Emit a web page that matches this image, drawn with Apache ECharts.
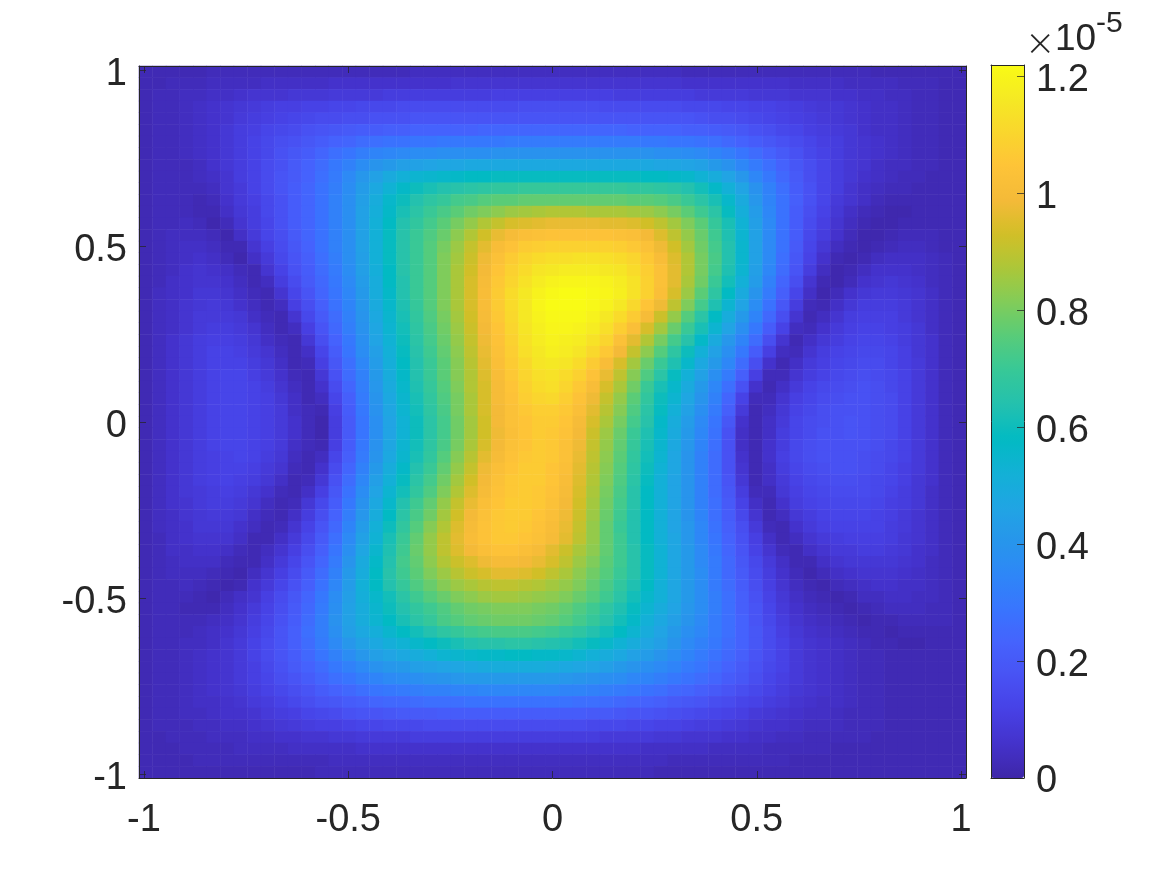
<!DOCTYPE html>
<html>
<head>
<meta charset="utf-8">
<title>heatmap</title>
<script src="https://cdn.jsdelivr.net/npm/echarts@6/dist/echarts.min.js"></script>
<style>
  html, body { margin: 0; background: #fff; }
  #main { width: 1167px; height: 875px; }
</style>
</head>
<body>
<div id="main"></div>
<script>
// values in units of 1e-7. rows go top to bottom, 61 columns left to right
const zRows = [
[2,2,2,2,2,3,3,3,3,3,3,3,3,3,3,3,3,3,3,3,4,4,4,4,4,4,4,4,4,4,4,4,4,4,4,4,4,4,4,4,3,3,3,3,3,3,3,3,3,3,3,3,3,3,2,2,2,2,2,2,2],
[2,2,3,3,3,4,4,4,4,5,5,5,5,5,6,6,6,6,6,6,6,6,6,7,7,7,7,7,7,7,7,7,7,7,7,7,7,7,7,7,6,6,6,6,6,6,6,6,5,5,5,5,4,4,4,4,3,3,3,2,2],
[2,3,3,4,4,5,5,6,7,7,7,8,8,8,9,9,9,9,10,10,10,10,10,10,10,10,11,11,11,11,11,11,11,11,11,10,10,10,10,10,10,9,9,9,9,8,8,8,7,7,7,6,6,5,5,4,4,3,3,2,2],
[2,3,3,4,5,6,7,8,9,10,11,11,12,12,13,13,14,14,14,15,15,15,15,15,15,15,15,15,16,16,16,16,16,16,15,15,15,15,15,15,14,14,14,13,13,12,12,11,10,9,8,8,7,6,5,5,4,3,3,2,2],
[2,3,3,4,5,6,7,9,10,11,12,13,14,15,15,16,16,17,17,17,18,18,18,18,18,18,18,18,18,18,18,18,18,18,18,18,18,18,18,18,18,17,16,16,15,14,13,12,11,10,9,8,7,6,5,5,4,3,3,2,2],
[2,3,3,4,5,6,8,10,11,13,14,15,17,18,19,20,21,21,22,22,23,23,23,23,23,24,24,24,24,24,24,24,24,24,24,24,23,23,23,23,22,22,21,20,19,17,16,14,13,11,10,9,8,6,5,5,4,3,3,2,2],
[2,3,3,4,5,6,8,10,12,14,16,17,19,21,23,24,26,27,28,28,29,29,30,30,30,30,30,31,31,31,31,31,31,31,31,31,31,30,30,29,29,28,27,25,23,21,19,17,15,13,11,10,8,7,6,5,4,3,3,2,2],
[2,3,3,4,5,6,8,10,12,14,17,19,21,24,27,29,32,34,35,36,37,37,38,38,38,38,39,39,39,39,39,39,39,39,39,39,39,39,38,38,37,36,34,32,29,26,23,20,17,14,12,10,8,7,6,5,4,3,3,2,2],
[2,3,3,3,4,6,8,10,12,15,17,20,23,26,30,33,37,40,42,44,45,46,47,47,48,48,48,48,48,48,48,48,48,48,48,48,48,48,47,47,46,45,42,39,35,31,27,23,19,16,13,10,8,7,5,4,4,3,3,2,2],
[2,3,3,3,4,5,7,10,12,15,18,20,23,27,31,36,41,45,49,52,54,55,56,57,58,58,59,59,59,59,59,59,59,59,59,59,59,58,58,57,56,53,50,46,41,35,30,25,20,16,13,10,8,6,5,4,3,3,2,2,2],
[2,3,3,3,3,4,7,9,12,15,18,21,24,28,32,37,43,48,53,57,60,62,64,65,66,67,68,68,69,69,69,69,69,69,69,69,68,68,67,66,64,61,57,52,46,39,33,27,21,17,13,10,7,5,4,3,3,2,2,2,2],
[2,3,3,3,2,3,6,9,11,14,17,21,24,28,33,38,44,50,56,60,64,67,69,72,73,75,76,76,77,77,77,77,77,77,77,77,76,76,75,73,70,66,62,56,49,41,34,28,22,17,13,9,7,5,3,2,2,2,2,2,2],
[2,3,3,3,2,2,5,8,10,14,17,21,24,28,33,38,45,51,57,62,66,70,73,76,79,81,83,85,86,87,88,88,88,87,87,87,86,85,83,80,76,71,66,59,51,43,35,28,21,16,12,8,5,3,2,1,1,2,2,2,2],
[2,3,3,4,3,1,3,7,10,13,17,21,24,28,33,38,45,52,58,64,68,72,76,80,84,88,91,94,95,96,97,97,97,97,96,96,95,93,90,86,81,76,69,62,53,44,36,28,21,15,11,7,4,2,1,1,2,2,2,2,2],
[2,3,4,4,4,3,1,5,9,13,16,20,24,28,33,38,45,52,59,65,70,74,78,83,88,93,97,100,102,103,104,104,104,104,104,103,102,99,95,90,84,78,71,63,54,45,36,28,21,14,10,6,3,1,1,2,3,3,3,2,2],
[2,3,4,5,5,4,2,2,7,11,15,19,23,28,33,38,45,52,59,65,70,75,80,85,91,96,101,104,107,108,109,109,109,109,109,108,106,103,98,93,86,79,72,64,55,45,36,28,20,13,8,4,2,1,2,3,4,4,3,2,2],
[2,3,4,5,6,5,3,1,5,9,14,18,22,27,32,38,44,52,59,65,70,75,81,86,92,98,103,107,110,112,113,113,114,114,113,112,110,106,101,95,88,80,73,64,55,45,36,27,19,12,6,2,1,2,4,5,5,5,4,3,2],
[2,3,4,6,7,6,5,3,2,7,12,17,21,26,31,37,44,51,58,65,70,75,81,87,93,99,105,109,112,115,116,117,117,117,116,115,112,108,103,96,88,80,72,63,54,44,35,26,18,10,4,1,2,4,6,6,6,5,4,3,2],
[2,3,5,6,7,7,6,4,2,4,10,15,20,25,30,36,43,50,58,64,70,75,81,87,94,100,106,110,114,117,119,120,120,120,119,117,114,109,103,96,87,79,70,61,52,43,33,24,16,7,2,1,3,6,7,8,7,6,4,3,2],
[2,4,5,6,8,8,7,5,3,2,7,13,18,24,29,35,42,50,57,64,70,75,81,87,94,101,107,112,116,119,121,122,122,121,120,118,114,109,102,94,85,76,67,58,49,40,31,22,13,5,1,3,6,8,9,9,8,7,5,3,2],
[2,4,5,7,8,9,8,6,4,2,4,11,16,22,28,34,41,49,56,63,69,75,81,87,94,101,107,112,116,120,122,122,122,121,119,116,111,105,98,90,81,72,63,54,46,37,28,19,10,3,2,5,8,10,10,10,9,7,5,3,2],
[2,4,5,7,9,9,9,8,5,3,2,7,14,20,26,33,40,48,55,62,68,74,80,86,93,100,106,111,116,119,121,121,121,119,116,112,107,100,92,84,75,66,58,50,42,34,25,16,7,2,4,7,10,11,11,11,9,7,5,3,2],
[2,4,5,7,9,10,10,9,7,4,2,4,11,18,25,32,39,47,54,61,67,73,79,85,92,99,105,110,115,118,120,120,119,117,113,108,102,94,86,78,70,62,54,46,38,30,21,12,4,3,6,9,11,12,12,11,10,8,5,3,2],
[2,4,6,8,10,11,11,10,8,5,3,2,8,16,23,30,38,46,53,60,66,72,78,84,91,98,104,109,114,117,119,118,117,114,110,103,96,88,80,72,65,57,49,41,34,26,16,7,2,5,8,10,12,13,13,12,10,8,6,3,2],
[2,4,6,8,10,12,12,11,9,7,4,2,5,13,21,29,37,44,52,59,65,71,77,83,90,97,103,108,113,116,118,117,115,111,106,99,91,83,75,67,60,52,45,38,30,21,11,4,3,7,10,12,13,14,14,13,11,8,6,3,2],
[2,4,6,8,10,12,12,12,10,8,5,2,3,11,19,27,35,43,51,58,64,70,76,82,89,96,102,107,111,115,116,115,112,107,101,94,86,78,70,63,56,48,42,35,26,16,6,2,5,9,11,13,14,15,15,13,11,9,6,3,2],
[2,4,6,8,10,12,13,13,11,9,6,3,2,8,17,26,33,42,50,57,64,70,76,82,88,95,101,106,110,113,114,112,109,104,97,90,82,74,66,59,52,45,38,31,22,11,3,3,7,10,12,14,15,16,15,14,12,9,6,3,2],
[2,4,6,8,10,12,13,13,12,10,7,4,2,6,15,24,32,41,49,56,63,69,75,81,88,94,100,105,109,112,113,110,106,101,94,87,79,70,62,56,49,42,35,27,17,6,2,5,9,12,14,15,16,17,16,14,12,9,6,3,2],
[2,4,6,8,10,12,13,13,12,11,8,5,2,4,13,22,31,40,48,55,62,68,74,80,87,94,100,104,108,110,111,108,104,98,91,84,76,68,60,54,47,40,33,24,12,3,3,7,11,13,15,16,17,17,16,15,12,9,6,3,2],
[2,4,6,8,10,12,13,13,12,11,9,5,3,2,11,21,30,39,47,54,61,67,73,80,87,94,99,103,106,108,108,106,102,96,89,82,74,66,59,52,45,38,31,22,9,2,4,8,12,14,16,17,17,17,16,15,12,9,6,3,2],
[2,4,6,8,10,12,13,13,12,11,9,6,3,1,10,20,29,38,46,53,60,66,72,79,86,93,99,103,105,107,107,105,100,94,87,80,72,65,57,50,43,36,29,19,6,2,5,9,13,15,16,17,18,17,16,15,12,9,6,3,2],
[2,4,6,8,10,12,13,13,12,11,9,6,3,1,10,20,29,38,46,53,60,66,72,79,86,93,98,102,105,107,106,104,99,92,85,78,70,63,56,49,42,35,28,17,5,2,5,10,13,15,17,17,18,17,16,15,12,9,6,3,2],
[2,4,6,8,10,12,13,13,12,11,9,5,3,2,11,21,30,39,47,54,61,67,73,80,87,94,99,103,105,107,106,103,98,91,84,77,69,62,55,48,41,34,27,17,5,2,6,10,14,16,17,17,17,17,16,14,12,9,6,3,2],
[2,4,6,8,10,11,12,13,12,10,8,4,2,4,13,22,31,40,48,55,62,68,75,82,89,96,100,104,106,107,106,103,97,90,83,76,68,61,54,47,40,33,26,17,6,2,6,11,14,16,17,17,17,16,15,14,12,9,6,3,2],
[2,4,6,8,10,11,12,12,11,9,7,3,2,6,15,24,33,42,50,57,64,70,77,84,91,98,102,105,107,107,105,102,96,89,82,75,67,60,53,47,40,33,26,17,7,2,5,10,13,15,16,17,17,16,15,13,11,9,6,3,2],
[2,4,6,8,10,11,12,11,10,8,5,2,3,8,17,26,35,44,52,59,66,72,79,86,93,99,103,106,107,107,105,101,95,88,81,74,66,59,52,46,40,33,26,18,8,2,5,9,12,14,15,16,16,15,14,13,11,8,6,3,2],
[2,4,6,8,9,10,11,10,8,6,3,2,5,11,19,28,37,46,54,61,68,74,81,88,95,100,104,106,107,106,104,100,94,87,80,73,65,58,52,46,40,33,26,19,10,3,3,8,11,13,14,15,15,15,14,12,10,8,5,3,2],
[2,4,6,7,9,10,10,9,7,4,2,3,8,14,21,30,39,48,56,64,71,77,84,91,97,102,105,107,107,106,103,99,93,86,79,72,65,58,52,46,40,33,27,20,12,5,2,6,10,12,13,14,14,14,13,11,10,8,5,3,2],
[2,4,5,7,8,9,9,8,5,3,2,5,10,16,23,32,41,50,58,66,73,79,86,93,99,103,106,107,107,105,102,98,92,85,78,71,64,58,52,46,40,34,27,21,14,7,2,4,8,10,12,13,13,13,12,11,9,7,5,3,2],
[2,4,5,6,8,8,8,6,4,2,3,7,12,18,25,34,43,52,60,68,75,82,88,95,100,104,106,107,106,104,101,97,91,84,77,70,64,58,52,46,41,35,28,22,16,9,3,2,6,9,11,12,12,12,12,10,9,7,5,3,2],
[2,3,5,6,7,7,7,5,2,2,5,9,14,20,27,36,45,53,62,70,77,84,90,96,101,104,106,106,105,103,100,96,90,84,77,71,64,58,52,47,41,35,29,23,17,11,5,2,4,7,9,10,11,11,11,10,8,7,5,3,2],
[2,3,5,5,6,6,5,3,2,4,7,11,16,22,29,38,47,55,63,71,78,84,90,95,99,102,104,104,102,100,96,92,87,83,77,71,65,59,53,47,42,36,30,24,18,12,7,3,2,5,7,9,9,10,10,9,8,6,5,3,2],
[2,3,4,5,5,5,3,2,2,5,9,13,18,24,31,40,49,57,64,72,77,83,88,92,95,98,100,100,99,97,94,90,85,81,76,71,65,59,53,47,42,36,31,25,19,14,9,5,2,2,5,7,8,8,8,8,7,6,4,3,2],
[2,3,4,4,4,3,2,1,4,7,11,15,20,26,33,42,50,58,65,71,76,81,85,89,92,94,96,96,95,93,90,87,83,79,75,70,65,59,53,47,42,37,31,25,20,15,10,6,3,1,3,5,6,7,7,7,6,5,4,3,2],
[2,3,3,4,3,2,1,2,6,9,13,17,22,28,35,43,52,58,64,69,74,78,82,85,87,89,90,90,89,88,86,84,81,77,73,68,63,58,52,47,42,37,31,26,21,16,11,7,4,2,1,3,4,5,6,6,5,5,4,3,2],
[2,3,3,3,2,1,3,5,7,11,15,19,24,30,37,44,51,56,61,66,71,75,78,81,83,85,86,86,85,84,83,81,78,75,71,66,61,56,52,47,42,37,32,27,22,17,12,8,5,3,2,1,2,4,4,5,5,4,4,3,2],
[2,3,3,2,2,2,4,6,9,12,16,20,25,31,38,45,50,55,60,64,68,71,74,77,79,80,81,81,81,80,79,77,74,71,67,63,59,54,50,46,41,37,32,27,22,18,13,9,6,4,3,2,1,2,3,4,4,4,3,3,2],
[2,3,3,3,3,4,5,7,10,13,17,21,26,32,39,45,50,54,58,62,66,69,73,75,77,78,79,79,79,78,77,75,72,69,65,61,57,52,48,44,40,36,31,27,23,18,14,10,7,5,4,3,2,1,2,2,3,3,3,3,2],
[2,3,3,3,4,5,6,8,11,14,18,22,27,32,38,44,48,51,55,58,61,64,67,69,71,72,73,73,73,72,71,69,67,64,61,58,54,50,46,42,38,35,31,27,23,19,15,11,8,6,5,4,3,2,2,1,2,2,2,2,2],
[2,3,3,4,4,5,7,9,12,15,18,22,26,31,36,41,45,48,51,53,56,58,60,62,64,65,65,66,66,65,64,63,61,59,56,53,50,47,44,40,36,33,30,26,23,19,15,12,9,7,6,5,4,3,2,2,1,1,2,2,2],
[2,3,3,4,5,6,7,9,12,15,18,21,25,29,33,37,41,44,46,48,50,52,54,55,56,57,57,58,58,57,57,56,54,52,50,48,45,43,40,37,34,31,28,25,22,18,15,12,9,7,6,5,4,3,3,2,2,2,2,2,2],
[2,3,3,4,5,6,7,9,11,14,17,20,23,26,30,33,36,39,41,42,44,45,46,47,48,49,50,50,50,50,49,48,47,46,44,42,40,38,36,34,31,29,26,23,20,17,14,12,9,7,6,5,4,3,3,2,2,2,2,2,2],
[2,3,3,4,5,6,7,9,11,13,16,18,21,24,27,29,32,34,36,37,38,39,40,41,42,42,42,42,42,42,42,41,40,39,38,37,35,34,32,30,28,26,24,21,19,16,13,11,9,7,6,5,4,3,3,2,2,2,2,2,2],
[2,3,3,4,5,6,7,8,10,12,14,16,18,21,23,25,27,29,30,31,32,33,33,34,34,35,35,35,35,35,35,34,34,33,32,31,30,28,27,25,24,22,20,18,16,14,12,10,8,7,6,5,4,3,3,2,2,2,2,2,2],
[2,3,3,4,5,5,6,7,9,10,12,14,16,18,19,21,22,24,25,25,26,27,27,27,28,28,28,28,28,28,28,28,27,27,26,25,24,23,22,20,19,18,16,15,13,12,10,9,7,6,5,5,4,3,3,2,2,2,2,2,2],
[2,3,3,4,4,5,6,6,7,9,10,11,13,14,15,17,18,18,19,20,20,20,21,21,21,21,21,21,21,21,21,21,21,20,20,19,18,18,17,16,15,14,13,12,11,9,8,7,6,5,5,4,3,3,3,2,2,2,2,2,2],
[2,3,3,3,4,4,5,5,6,7,8,9,10,11,11,12,13,13,14,14,14,15,15,15,15,15,15,15,15,15,15,15,15,14,14,14,13,13,12,12,11,10,10,9,8,7,6,6,5,4,4,4,3,3,3,2,2,2,2,2,2],
[2,2,3,3,3,4,4,4,5,5,6,6,7,7,8,8,9,9,9,9,10,10,10,10,10,10,10,10,10,10,10,10,10,10,9,9,9,9,8,8,7,7,7,6,6,5,5,4,4,3,3,3,3,3,2,2,2,2,2,2,2],
[2,2,2,3,3,3,3,4,4,4,4,5,5,5,5,5,6,6,6,6,6,6,6,6,6,6,6,6,6,6,6,6,6,6,6,6,6,5,5,5,5,5,4,4,4,4,3,3,3,3,3,2,2,2,2,2,2,2,2,2,2],
[2,2,2,2,3,3,3,3,3,3,3,3,3,3,4,4,4,4,4,4,4,4,4,4,4,4,4,4,4,4,4,4,4,4,4,4,4,4,4,3,3,3,3,3,3,3,3,3,2,2,2,2,2,2,2,2,2,2,2,2,2],
[2,2,2,2,2,2,2,2,2,2,2,2,2,3,3,3,3,3,3,3,3,3,3,3,3,3,3,3,3,3,3,3,3,3,3,3,3,3,2,2,2,2,2,2,2,2,2,2,2,2,2,2,2,2,2,2,2,2,2,2,2]
];
const xTicks = [-1, -0.5, 0, 0.5, 1];
const yTicks = [-1, -0.5, 0, 0.5, 1];
const barTicks = [0, 0.2, 0.4, 0.6, 0.8, 1, 1.2];
const barMax = 122;
const parula = ['#3e26a8','#4432cb','#4741e5','#4852f4','#4563fd','#3875fe','#2e87f7','#2796eb','#20a5e3','#12b1d6','#02bac3',
  '#24c1ae','#37c897','#57cc7a','#81cc59','#abc739','#d1bf27','#f4ba38','#fec338','#fad62d','#f5e924','#f9fb15'];

const textColor = '#262626';
const fontName = '"Liberation Sans", Arial, sans-serif';
// the image runs half a cell past the -1 and 1 ticks
const xEdge = 1.0122;
const yEdge = 1.0114;

var cells = [];
zRows.forEach((row, j) => {
  row.forEach((v, i) => { cells.push([i, j, v]); });
});
var xCats = zRows[0].map((v, i) => i);
var yCats = zRows.map((v, j) => j);

function frameAxis(pos, gridIndex, edgeMin, edgeMax, ticks, showLabel, margin, labelLine) {
  var label = {
    show: showLabel, customValues: ticks, color: textColor, fontFamily: fontName, fontSize: 38, margin: margin,
    formatter: (v) => String(v)
  };
  // vertical labels sit a bit under their tick in the reference
  if (labelLine) {
    label.verticalAlign = 'top';
    label.lineHeight = labelLine;
  }
  return {
    type: 'value', gridIndex: gridIndex, position: pos, min: edgeMin, max: edgeMax, z: 10,
    splitLine: { show: false },
    axisLine: { show: true, onZero: false, lineStyle: { color: textColor, width: 1 } },
    axisTick: { show: ticks.length > 0, customValues: ticks, inside: true, length: 7, lineStyle: { color: textColor, width: 1, opacity: 0.75 } },
    axisLabel: label
  };
}

var myChart = echarts.init(document.getElementById('main'), null, { renderer: 'canvas' });
myChart.setOption({
  animation: false,
  backgroundColor: '#fff',
  grid: [
    { left: 139, top: 66, width: 827, height: 712 },
    { left: 139, top: 66, width: 827, height: 712 },
    { left: 991, top: 65, width: 33, height: 713 }
  ],
  xAxis: [
    { type: 'category', gridIndex: 0, data: xCats, show: false },
    frameAxis('bottom', 1, -xEdge, xEdge, xTicks, true, 24),
    frameAxis('top', 1, -xEdge, xEdge, xTicks, false, 0),
    frameAxis('bottom', 2, 0, 1, [], false, 0),
    frameAxis('top', 2, 0, 1, [], false, 0)
  ],
  yAxis: [
    { type: 'category', gridIndex: 0, data: yCats, inverse: true, show: false },
    frameAxis('left', 1, -yEdge, yEdge, yTicks, true, 12, 10),
    frameAxis('right', 1, -yEdge, yEdge, yTicks, false, 0),
    frameAxis('left', 2, 0, barMax / 100, [], false, 0),
    frameAxis('right', 2, 0, barMax / 100, barTicks, true, 12, 8)
  ],
  visualMap: {
    type: 'continuous', seriesIndex: 0, dimension: 2, min: 0, max: barMax,
    left: 991, top: 65, itemWidth: 33, itemHeight: 713, padding: 0,
    calculable: false, hoverLink: false, showLabel: false, text: null, realtime: false,
    inRange: { color: parula }
  },
  series: [
    { type: 'heatmap', xAxisIndex: 0, yAxisIndex: 0, data: cells, progressive: 0, itemStyle: { borderWidth: 0 }, emphasis: { disabled: true } }
  ],
  graphic: [
    { type: 'text', z: 20, style: { x: 1026, y: 43, text: '×', fontFamily: 'Inter, ' + fontName, fontWeight: 200, fontSize: 44, fill: textColor, verticalAlign: 'middle' } },
    { type: 'text', z: 20, style: { x: 1055, y: 40, text: '10', fontFamily: fontName, fontSize: 37, fill: textColor, verticalAlign: 'middle' } },
    { type: 'text', z: 20, style: { x: 1096, y: 24, text: '-5', fontFamily: fontName, fontSize: 30, fill: textColor, verticalAlign: 'middle' } }
  ]
});
</script>
</body>
</html>
